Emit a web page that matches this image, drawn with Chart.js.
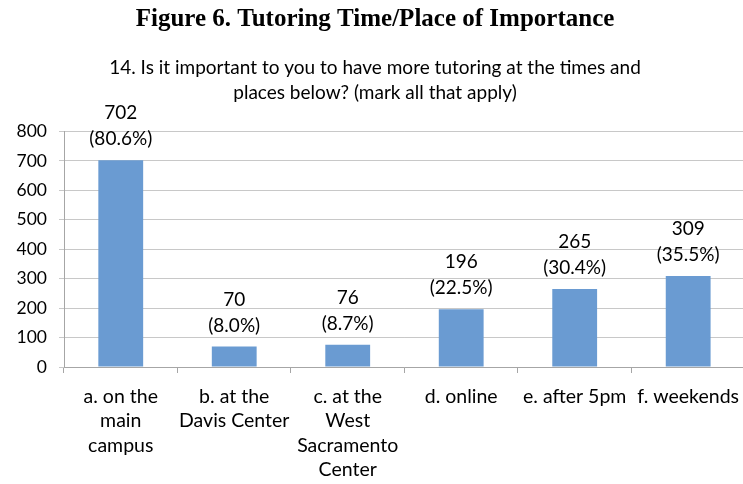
<!DOCTYPE html>
<html>
<head>
<meta charset="utf-8">
<script src="https://cdn.jsdelivr.net/npm/chart.js@4/dist/chart.umd.min.js"></script>
<style>
  html, body { margin: 0; padding: 0; background: #fff; overflow: hidden; }
  #wrap { width: 750px; height: 484px; }
</style>
</head>
<body>
<div id="wrap"><canvas id="c" width="750" height="484"></canvas></div>
<script>
// ---- data ----
const categories = [
  ['a. on the', 'main', 'campus'],
  ['b. at the', 'Davis Center'],
  ['c. at the', 'West', 'Sacramento', 'Center'],
  ['d. online'],
  ['e. after 5pm'],
  ['f. weekends']
];
const counts = [702, 70, 76, 196, 265, 309];
const percents = ['80.6%', '8.0%', '8.7%', '22.5%', '30.4%', '35.5%'];
const yTicks = [0, 100, 200, 300, 400, 500, 600, 700, 800];
const titleText = 'Figure 6. Tutoring Time/Place of Importance';
const subtitleLines = ['14. Is it important to you to have more tutoring at the times and',
                       'places below? (mark all that apply)'];

const SANS = 'Lato, "Noto Sans", sans-serif';

const barLabels = {
  id: 'barLabels',
  afterDatasetsDraw(chart) {
    const ctx = chart.ctx;
    const meta = chart.getDatasetMeta(0);
    ctx.save();
    ctx.fillStyle = '#000';
    ctx.font = '19px ' + SANS;
    ctx.textAlign = 'center';
    ctx.textBaseline = 'middle';
    meta.data.forEach((bar, i) => {
      ctx.fillText('(' + percents[i] + ')', bar.x, bar.y - 21);
      ctx.fillText(String(counts[i]), bar.x, bar.y - 47);
    });
    ctx.restore();
  }
};

new Chart(document.getElementById('c'), {
  type: 'bar',
  data: {
    labels: categories,
    datasets: [{
      data: counts,
      backgroundColor: '#6a9bd2',
      borderWidth: 0,
      barPercentage: 0.395,
      categoryPercentage: 1.0
    }]
  },
  options: {
    responsive: false,
    animation: false,
    devicePixelRatio: 1,
    layout: { padding: { top: 0, right: 0, bottom: 0, left: 0 } },
    plugins: {
      legend: { display: false },
      tooltip: { enabled: false },
      title: {
        display: true,
        text: titleText,
        color: '#000',
        font: { family: '"Liberation Serif", "Times New Roman", serif', size: 25, weight: 'bold', lineHeight: 1.2 },
        padding: { top: 5, bottom: 20.5 }
      },
      subtitle: {
        display: true,
        text: subtitleLines,
        color: '#000',
        font: { family: SANS, size: 19, lineHeight: 1.316 },
        padding: { top: 0, bottom: 26 }
      }
    },
    scales: {
      x: {
        offset: true,
        grid: {
          display: true,
          offset: true,
          drawOnChartArea: false,
          drawTicks: true,
          tickLength: 6,
          color: '#a6a6a6'
        },
        border: { display: true, color: '#a6a6a6', width: 1 },
        ticks: {
          color: '#000',
          font: { family: SANS, size: 19.5, lineHeight: 1.26 },
          padding: 11,
          autoSkip: false,
          maxRotation: 0,
          minRotation: 0
        },
        afterFit(scale) { scale.height = 117; }
      },
      y: {
        min: 0,
        max: 800,
        afterBuildTicks(scale) { scale.ticks = yTicks.map(v => ({ value: v })); },
        grid: {
          color: '#c8c8c8',
          tickLength: 5,
          drawTicks: true
        },
        border: { display: true, color: '#a6a6a6', width: 1 },
        ticks: {
          color: '#000',
          font: { family: SANS, size: 17.5 },
          padding: 12
        },
        afterFit(scale) { scale.width = 64; }
      }
    }
  },
  plugins: [barLabels]
});
</script>
</body>
</html>
